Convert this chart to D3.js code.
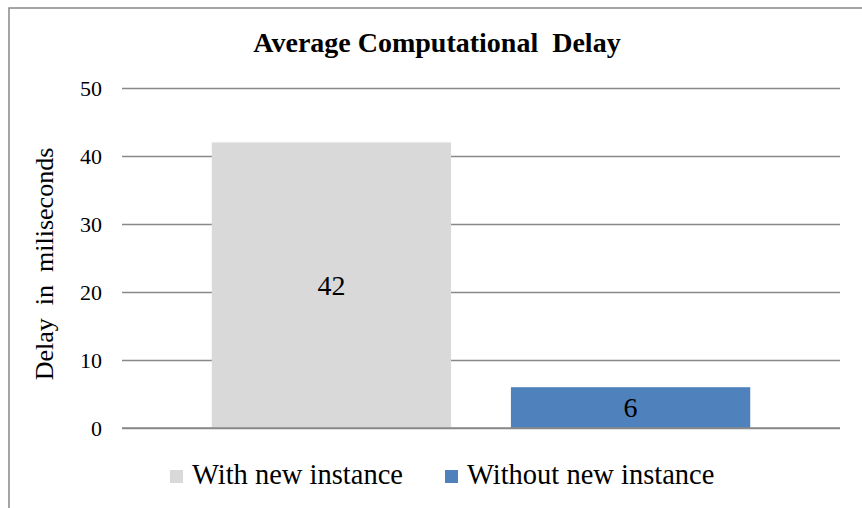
<!DOCTYPE html>
<html>
<head>
<meta charset="utf-8">
<script src="https://cdn.jsdelivr.net/npm/d3@7"></script>
<style>
  body { margin: 0; background: #fff; }
</style>
</head>
<body>
<div class="canva"></div>
<script>
// chart data
const categories = ["With new instance", "Without new instance"];
const values = [42, 6];
const colors = ["#d9d9d9", "#4f81bd"];
const yTicks = [0, 10, 20, 30, 40, 50];

const svg = d3.select(".canva").append("svg")
    .attr("width", 862)
    .attr("height", 508);

// outer frame
svg.append("rect")
    .attr("x", 9).attr("y", 8)
    .attr("width", 870).attr("height", 520)
    .attr("fill", "#fff")
    .attr("stroke", "#888")
    .attr("stroke-width", 1.5);

const margin = {top: 88, left: 122, right: 22, bottom: 80};

const x = d3.scaleBand()
    .domain(categories)
    .range([margin.left, 862 - margin.right])
    .paddingInner(0.2)
    .paddingOuter(0.3);

const y = d3.scaleLinear()
    .domain([0, 50])
    .range([428, margin.top]);

// gridlines + tick labels
const yAxis = d3.axisLeft(y)
    .tickValues(yTicks)
    .tickSize(-(862 - margin.right - margin.left))
    .tickPadding(20);

const gy = svg.append("g")
    .attr("transform", `translate(${margin.left},0)`)
    .call(yAxis);
gy.select(".domain").remove();
gy.selectAll("line").attr("stroke", "#888").attr("stroke-width", 1.5);
gy.selectAll("text")
    .attr("fill", "#000")
    .style("font-family", "'Liberation Serif', serif")
    .style("font-size", "22px");

// bars
svg.selectAll(".bar")
    .data(values)
    .enter()
    .append("rect")
    .attr("class", "bar")
    .attr("x", (d, i) => x(categories[i]))
    .attr("y", d => y(d))
    .attr("width", x.bandwidth())
    .attr("height", d => y(0) - y(d))
    .attr("fill", (d, i) => colors[i]);

// bar value labels
svg.selectAll(".val")
    .data(values)
    .enter()
    .append("text")
    .attr("class", "val")
    .attr("x", (d, i) => x(categories[i]) + x.bandwidth() / 2)
    .attr("y", d => (y(d) + y(0)) / 2)
    .attr("text-anchor", "middle")
    .attr("dominant-baseline", "central")
    .style("font-family", "'Liberation Serif', serif")
    .style("font-size", "28px")
    .text(d => d);

// redraw baseline on top
svg.append("line")
    .attr("x1", margin.left).attr("x2", 862 - margin.right)
    .attr("y1", y(0)).attr("y2", y(0))
    .attr("stroke", "#888").attr("stroke-width", 1.5);

// title
svg.append("text")
    .attr("x", 437).attr("y", 52)
    .attr("text-anchor", "middle")
    .style("font-family", "'Liberation Serif', serif")
    .style("font-weight", "bold")
    .style("font-size", "28px")
    .style("white-space", "pre")
    .text("Average Computational  Delay");

// y label
svg.append("text")
    .attr("transform", `translate(53, ${(y(0) + y(50)) / 2 + 6}) rotate(-90)`)
    .attr("text-anchor", "middle")
    .style("font-family", "'Liberation Serif', serif")
    .style("font-size", "26px")
    .style("white-space", "pre")
    .text("Delay  in  miliseconds");

// legend
const legendX = [170, 445];
const legend = svg.selectAll(".legend")
    .data(categories)
    .enter()
    .append("g")
    .attr("class", "legend")
    .attr("transform", (d, i) => `translate(${legendX[i]}, 470)`);
legend.append("rect")
    .attr("width", 13).attr("height", 13)
    .attr("fill", (d, i) => colors[i]);
legend.append("text")
    .attr("x", 22).attr("y", 14)
    .style("font-family", "'Liberation Serif', serif")
    .style("font-size", "28.5px")
    .text(d => d);
</script>
</body>
</html>
